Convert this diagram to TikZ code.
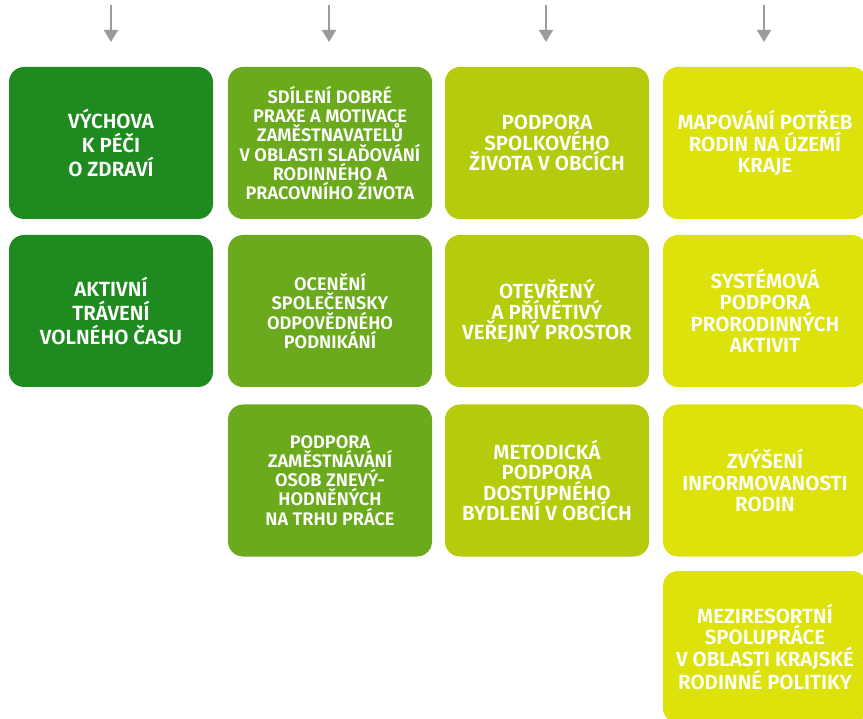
\documentclass[tikz,border=0pt]{standalone}
\usepackage{fontspec}
\setmainfont{Fira Sans}[BoldFont={Fira Sans SemiBold}]
\usetikzlibrary{arrows.meta}
\definecolor{cA}{HTML}{1F8A20}
\definecolor{cB}{HTML}{6BAA1C}
\definecolor{cC}{HTML}{B4CC0B}
\definecolor{cD}{HTML}{DEE20B}
\definecolor{arr}{HTML}{9B9B9B}
\tikzset{
  box/.style={rounded corners=15pt, minimum width=204pt, minimum height=152pt,
    inner sep=0pt, text=white, align=center},
  fA/.style={box, fill=cA, font=\bfseries\fontsize{20.5}{24}\selectfont},
  fB/.style={box, fill=cB, font=\bfseries\fontsize{18.2}{19.2}\selectfont},
  fC/.style={box, fill=cC, font=\bfseries\fontsize{20.5}{20.5}\selectfont},
  fD/.style={box, fill=cD, font=\bfseries\fontsize{20.5}{21.5}\selectfont},
  downarrow/.style={draw=arr, line width=1.6pt, -{Triangle[width=14pt,length=12pt]}}
}
\begin{document}
\begin{tikzpicture}[x=1pt,y=-1pt]
\useasboundingbox (0,0) rectangle (863,719);
\clip (0,0) rectangle (863,719);
% arrows
\foreach \n/\x in {1/111,2/329,3/546,4/764}{
  \coordinate (s\n) at (\x,5);
  \coordinate (e\n) at (\x,42);
  \draw[downarrow] (s\n) -- (e\n);
}
% column 1
\node[fA] (a1) at (111,143) {VÝCHOVA\\K PÉČI\\O ZDRAVÍ};
\node[fA] (a2) at (111,311) {AKTIVNÍ\\TRÁVENÍ\\VOLNÉHO ČASU};
% column 2
\node[fB] (b1) at (330,143) {SDÍLENÍ DOBRÉ\\PRAXE A MOTIVACE\\ZAMĚSTNAVATELŮ\\V OBLASTI SLAĎOVÁNÍ\\RODINNÉHO A\\PRACOVNÍHO ŽIVOTA};
\node[fB] (b2) at (330,311) {OCENĚNÍ\\SPOLEČENSKY\\ODPOVĚDNÉHO\\PODNIKÁNÍ};
\node[fB] (b3) at (330,480.5) {PODPORA\\ZAMĚSTNÁVÁNÍ\\OSOB ZNEVÝ-\\HODNĚNÝCH\\NA TRHU PRÁCE};
% column 3
\node[fC] (c1) at (547,143) {PODPORA\\SPOLKOVÉHO\\ŽIVOTA V OBCÍCH};
\node[fC] (c2) at (547,311) {OTEVŘENÝ\\A PŘÍVĚTIVÝ\\VEŘEJNÝ PROSTOR};
\node[fC] (c3) at (547,480.5) {METODICKÁ\\PODPORA\\DOSTUPNÉHO\\BYDLENÍ V OBCÍCH};
% column 4
\node[fD] (d1) at (765,143) {MAPOVÁNÍ POTŘEB\\RODIN NA ÚZEMÍ\\KRAJE};
\node[fD] (d2) at (765,311) {SYSTÉMOVÁ\\PODPORA\\PRORODINNÝCH\\AKTIVIT};
\node[fD] (d3) at (765,480.5) {ZVÝŠENÍ\\INFORMOVANOSTI\\RODIN};
\node[fD] (d4) at (765,647) {MEZIRESORTNÍ\\SPOLUPRÁCE\\V OBLASTI KRAJSKÉ\\RODINNÉ POLITIKY};
\end{tikzpicture}
\end{document}
